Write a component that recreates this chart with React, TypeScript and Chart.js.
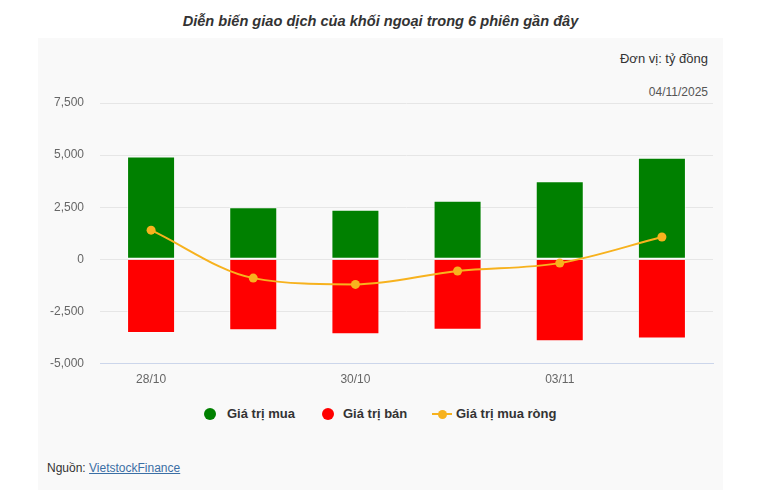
import React, { useEffect, useRef } from "react";
import { Chart, registerables } from "chart.js";

Chart.register(...registerables);

// Trading sessions and foreign investor flows (tỷ đồng)
const sessions = ["28/10", "29/10", "30/10", "31/10", "03/11", "04/11"];
const buyValues = [4930, 2500, 2380, 2810, 3750, 4870];
const sellValues = [-3530, -3400, -3590, -3380, -3930, -3800];
const netValues = [1400, -900, -1200, -560, -180, 1070];

const yMin = -5000;
const yMax = 7500;
const yStep = 2500;

const FONT = "'Liberation Sans', Arial, Helvetica, sans-serif";
const GREEN = "#008000";
const RED = "#ff0000";
const ORANGE = "#f7b21e";

export default function App() {
  const canvasRef = useRef<HTMLCanvasElement | null>(null);

  useEffect(() => {
    if (!canvasRef.current) return;
    const chart = new Chart(canvasRef.current, {
      type: "bar",
      data: {
        labels: sessions,
        datasets: [
          {
            type: "bar",
            label: "Giá trị mua",
            data: buyValues,
            backgroundColor: GREEN,
            borderColor: "rgba(255,255,255,0.55)",
            borderWidth: 1,
            borderSkipped: false,
            categoryPercentage: 1,
            barPercentage: 0.47,
            order: 1,
          },
          {
            type: "bar",
            label: "Giá trị bán",
            data: sellValues,
            backgroundColor: RED,
            borderColor: "rgba(255,255,255,0.55)",
            borderWidth: 1,
            borderSkipped: "start",
            categoryPercentage: 1,
            barPercentage: 0.47,
            order: 1,
          },
          {
            type: "line",
            label: "Giá trị mua ròng",
            data: netValues,
            borderColor: ORANGE,
            backgroundColor: ORANGE,
            borderWidth: 2,
            cubicInterpolationMode: "monotone",
            pointRadius: 4.5,
            pointBorderWidth: 0,
            pointBackgroundColor: ORANGE,
            fill: false,
            order: 0,
          },
        ],
      },
      options: {
        responsive: false,
        animation: false,
        devicePixelRatio: 1,
        layout: { padding: { top: 65, right: 10, bottom: 10, left: 0 } },
        plugins: {
          legend: { display: false },
          tooltip: { enabled: false },
          title: { display: false },
        },
        scales: {
          x: {
            stacked: true,
            grid: { display: false, drawTicks: false },
            border: { display: true, color: "#ccd6eb", width: 1 },
            ticks: {
              color: "#666666",
              font: { family: FONT, size: 12 },
              padding: 9,
              autoSkip: false,
              maxRotation: 0,
              callback: (_v: any, i: number) => (i % 2 === 0 ? sessions[i] : ""),
            },
          },
          y: {
            stacked: true,
            min: yMin,
            max: yMax,
            afterFit: (scale: any) => {
              scale.width = 62;
            },
            grid: { color: "#e6e6e6", drawTicks: false },
            border: { display: false },
            ticks: {
              stepSize: yStep,
              color: "#666666",
              font: { family: FONT, size: 12 },
              padding: 16,
              callback: (v: any) => Number(v).toLocaleString("en-US"),
            },
          },
        },
      },
    });
    return () => chart.destroy();
  }, []);

  const legendText: React.CSSProperties = {
    position: "absolute",
    top: 406,
    fontSize: 13,
    lineHeight: "15px",
    fontWeight: "bold",
    color: "#333333",
    whiteSpace: "nowrap",
  };
  const dot = (cx: number, color: string, r: number): React.CSSProperties => ({
    position: "absolute",
    left: cx - r,
    top: 414 - r,
    width: r * 2,
    height: r * 2,
    borderRadius: "50%",
    background: color,
  });

  return (
    <div
      style={{
        position: "absolute",
        left: 0,
        top: 0,
        width: 773,
        height: 497,
        background: "#ffffff",
        fontFamily: FONT,
        overflow: "hidden",
      }}
    >
      <div
        style={{
          position: "absolute",
          left: 38,
          top: 13,
          width: 685,
          textAlign: "center",
          fontSize: 14.6,
          lineHeight: "17px",
          fontWeight: "bold",
          fontStyle: "italic",
          color: "#333333",
        }}
      >
        Diễn biến giao dịch của khối ngoại trong 6 phiên gần đây
      </div>
      <div
        style={{
          position: "absolute",
          left: 38,
          top: 38,
          width: 685,
          height: 452,
          background: "#f9f9f9",
        }}
      />
      <div
        style={{
          position: "absolute",
          right: 65,
          top: 51,
          fontSize: 13,
          lineHeight: "15px",
          color: "#333333",
        }}
      >
        Đơn vị: tỷ đồng
      </div>
      <div
        style={{
          position: "absolute",
          right: 65,
          top: 85,
          fontSize: 12,
          lineHeight: "14px",
          color: "#555555",
        }}
      >
        04/11/2025
      </div>
      <canvas
        ref={canvasRef}
        width={685}
        height={368}
        style={{ position: "absolute", left: 38, top: 38, width: 685, height: 368 }}
      />
      {/* legend */}
      <div style={dot(210, GREEN, 6)} />
      <div style={{ ...legendText, left: 227 }}>Giá trị mua</div>
      <div style={dot(328, RED, 6)} />
      <div style={{ ...legendText, left: 343 }}>Giá trị bán</div>
      <div
        style={{
          position: "absolute",
          left: 432,
          top: 413,
          width: 20,
          height: 2,
          background: ORANGE,
        }}
      />
      <div style={dot(442, ORANGE, 4.5)} />
      <div style={{ ...legendText, left: 456 }}>Giá trị mua ròng</div>
      <div
        style={{
          position: "absolute",
          left: 47,
          top: 461,
          fontSize: 12,
          lineHeight: "14px",
          color: "#333333",
          whiteSpace: "nowrap",
        }}
      >
        Nguồn:{" "}
        <span style={{ color: "#3b6fa5", textDecoration: "underline" }}>
          VietstockFinance
        </span>
      </div>
    </div>
  );
}
